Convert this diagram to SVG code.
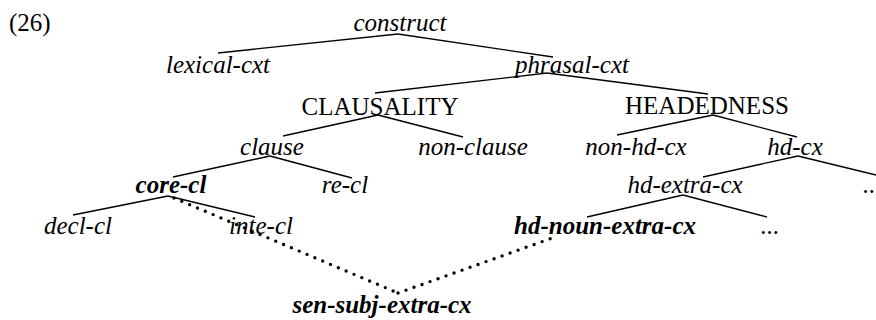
<svg xmlns="http://www.w3.org/2000/svg" width="876" height="320" viewBox="0 0 876 320">
<style>
text{font-family:"Liberation Serif","Times New Roman",serif;font-size:25px;fill:#000;text-anchor:middle}
.i{font-style:italic}
.b{font-style:italic;font-weight:bold}
.e line{stroke:#000;stroke-width:1.3}
.d line{stroke:#000;stroke-width:3.4;stroke-dasharray:0 8.5;stroke-linecap:round}
</style>
<rect width="876" height="320" fill="#fff"/>
<text x="9" y="31" style="text-anchor:start">(26)</text>
<g id="construct"><text class="i" x="400" y="31">construct</text></g>
<g id="lexical-cxt"><text class="i" x="218" y="73">lexical-cxt</text></g>
<g id="phrasal-cxt"><text class="i" x="572" y="73">phrasal-cxt</text></g>
<g id="clausality"><text x="380" y="115">CLAUSALITY</text></g>
<g id="headedness"><text x="707" y="114">HEADEDNESS</text></g>
<g id="clause"><text class="i" x="272" y="155">clause</text></g>
<g id="non-clause"><text class="i" x="473" y="155">non-clause</text></g>
<g id="non-hd-cx"><text class="i" x="636" y="155">non-hd-cx</text></g>
<g id="hd-cx"><text class="i" x="795" y="155">hd-cx</text></g>
<g id="core-cl"><text class="b" x="171" y="193">core-cl</text></g>
<g id="re-cl"><text class="i" x="345" y="193">re-cl</text></g>
<g id="hd-extra-cx"><text class="i" x="685" y="193">hd-extra-cx</text></g>
<g id="dots1"><text class="i" x="863" y="193" style="text-anchor:start">..</text></g>
<g id="decl-cl"><text class="i" x="78" y="234">decl-cl</text></g>
<g id="inte-cl"><text class="i" x="261" y="234">inte-cl</text></g>
<g id="hd-noun-extra-cx"><text class="b" x="605" y="234">hd-noun-extra-cx</text></g>
<g id="dots2"><text class="i" x="770" y="234">...</text></g>
<g id="sen-subj-extra-cx"><text class="b" x="382" y="313">sen-subj-extra-cx</text></g>
<g id="connectors">
<g class="e">
<line x1="398" y1="34" x2="218" y2="53"/>
<line x1="398" y1="34" x2="553" y2="57"/>
<line x1="547" y1="73" x2="375" y2="93"/>
<line x1="547" y1="73" x2="708" y2="94"/>
<line x1="378" y1="115" x2="283" y2="136"/>
<line x1="378" y1="115" x2="463" y2="137"/>
<line x1="713" y1="115" x2="617" y2="135"/>
<line x1="713" y1="115" x2="797" y2="137"/>
<line x1="270" y1="156" x2="173" y2="177"/>
<line x1="270" y1="156" x2="352" y2="178"/>
<line x1="798" y1="156" x2="703" y2="177"/>
<line x1="798" y1="156" x2="876" y2="175"/>
<line x1="683" y1="195" x2="587" y2="217"/>
<line x1="683" y1="195" x2="767" y2="217"/>
<line x1="168" y1="196" x2="73" y2="215"/>
<line x1="168" y1="196" x2="255" y2="217"/>
</g>
<g class="d">
<line x1="174" y1="198" x2="398" y2="293"/>
<line x1="398" y1="293" x2="555" y2="237"/>
</g>
</g>
</svg>
